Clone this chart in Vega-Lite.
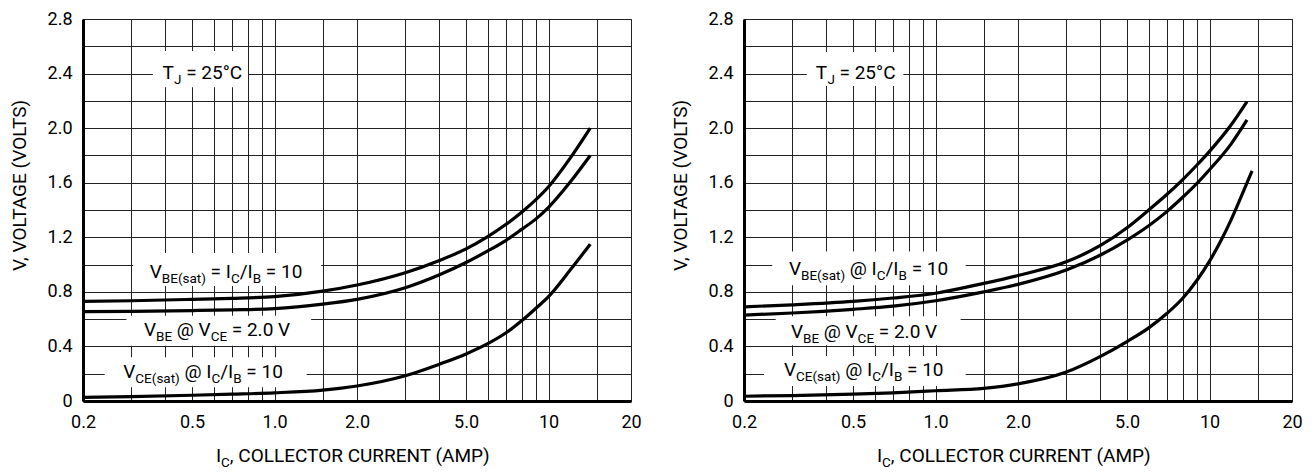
{
  "$schema": "https://vega.github.io/schema/vega-lite/v6.json",
  "background": "white",
  "padding": {"left": 9, "top": 9, "right": 5, "bottom": 0},
  "spacing": 113,
  "bounds": "flush",
  "datasets": {
    "curves": [
      {"panel": "L", "series": "VBEsat", "x": 0.2, "v": 0.73},
      {"panel": "L", "series": "VBEsat", "x": 0.3, "v": 0.735},
      {"panel": "L", "series": "VBEsat", "x": 0.5, "v": 0.745},
      {"panel": "L", "series": "VBEsat", "x": 0.7, "v": 0.752},
      {"panel": "L", "series": "VBEsat", "x": 1.0, "v": 0.765},
      {"panel": "L", "series": "VBEsat", "x": 1.5, "v": 0.805},
      {"panel": "L", "series": "VBEsat", "x": 2.0, "v": 0.85},
      {"panel": "L", "series": "VBEsat", "x": 3.0, "v": 0.94},
      {"panel": "L", "series": "VBEsat", "x": 4.0, "v": 1.03},
      {"panel": "L", "series": "VBEsat", "x": 5.0, "v": 1.115},
      {"panel": "L", "series": "VBEsat", "x": 6.0, "v": 1.205},
      {"panel": "L", "series": "VBEsat", "x": 7.0, "v": 1.295},
      {"panel": "L", "series": "VBEsat", "x": 8.0, "v": 1.385},
      {"panel": "L", "series": "VBEsat", "x": 10, "v": 1.57},
      {"panel": "L", "series": "VBEsat", "x": 12, "v": 1.78},
      {"panel": "L", "series": "VBEsat", "x": 14.2, "v": 2.0},
      {"panel": "L", "series": "VBE", "x": 0.2, "v": 0.655},
      {"panel": "L", "series": "VBE", "x": 0.3, "v": 0.657},
      {"panel": "L", "series": "VBE", "x": 0.5, "v": 0.663},
      {"panel": "L", "series": "VBE", "x": 0.7, "v": 0.668},
      {"panel": "L", "series": "VBE", "x": 1.0, "v": 0.677},
      {"panel": "L", "series": "VBE", "x": 1.5, "v": 0.71},
      {"panel": "L", "series": "VBE", "x": 2.0, "v": 0.745},
      {"panel": "L", "series": "VBE", "x": 3.0, "v": 0.83},
      {"panel": "L", "series": "VBE", "x": 4.0, "v": 0.925},
      {"panel": "L", "series": "VBE", "x": 5.0, "v": 1.015},
      {"panel": "L", "series": "VBE", "x": 6.0, "v": 1.1},
      {"panel": "L", "series": "VBE", "x": 7.0, "v": 1.178},
      {"panel": "L", "series": "VBE", "x": 8.0, "v": 1.26},
      {"panel": "L", "series": "VBE", "x": 9.0, "v": 1.335},
      {"panel": "L", "series": "VBE", "x": 10, "v": 1.42},
      {"panel": "L", "series": "VBE", "x": 12, "v": 1.605},
      {"panel": "L", "series": "VBE", "x": 14.2, "v": 1.8},
      {"panel": "L", "series": "VCEsat", "x": 0.2, "v": 0.027},
      {"panel": "L", "series": "VCEsat", "x": 0.3, "v": 0.032},
      {"panel": "L", "series": "VCEsat", "x": 0.5, "v": 0.042},
      {"panel": "L", "series": "VCEsat", "x": 0.7, "v": 0.05},
      {"panel": "L", "series": "VCEsat", "x": 1.0, "v": 0.06},
      {"panel": "L", "series": "VCEsat", "x": 1.5, "v": 0.08},
      {"panel": "L", "series": "VCEsat", "x": 2.0, "v": 0.11},
      {"panel": "L", "series": "VCEsat", "x": 3.0, "v": 0.185},
      {"panel": "L", "series": "VCEsat", "x": 4.0, "v": 0.27},
      {"panel": "L", "series": "VCEsat", "x": 5.0, "v": 0.345},
      {"panel": "L", "series": "VCEsat", "x": 6.0, "v": 0.42},
      {"panel": "L", "series": "VCEsat", "x": 7.0, "v": 0.5},
      {"panel": "L", "series": "VCEsat", "x": 8.0, "v": 0.59},
      {"panel": "L", "series": "VCEsat", "x": 9.0, "v": 0.68},
      {"panel": "L", "series": "VCEsat", "x": 10, "v": 0.765},
      {"panel": "L", "series": "VCEsat", "x": 12, "v": 0.96},
      {"panel": "L", "series": "VCEsat", "x": 14.2, "v": 1.15},
      {"panel": "R", "series": "VBEsat", "x": 0.2, "v": 0.69},
      {"panel": "R", "series": "VBEsat", "x": 0.3, "v": 0.705},
      {"panel": "R", "series": "VBEsat", "x": 0.5, "v": 0.73},
      {"panel": "R", "series": "VBEsat", "x": 0.7, "v": 0.755},
      {"panel": "R", "series": "VBEsat", "x": 1.0, "v": 0.79},
      {"panel": "R", "series": "VBEsat", "x": 1.5, "v": 0.862},
      {"panel": "R", "series": "VBEsat", "x": 2.0, "v": 0.92},
      {"panel": "R", "series": "VBEsat", "x": 3.0, "v": 1.02},
      {"panel": "R", "series": "VBEsat", "x": 4.0, "v": 1.14},
      {"panel": "R", "series": "VBEsat", "x": 5.0, "v": 1.27},
      {"panel": "R", "series": "VBEsat", "x": 6.0, "v": 1.4},
      {"panel": "R", "series": "VBEsat", "x": 7.0, "v": 1.515},
      {"panel": "R", "series": "VBEsat", "x": 8.0, "v": 1.625},
      {"panel": "R", "series": "VBEsat", "x": 9.0, "v": 1.73},
      {"panel": "R", "series": "VBEsat", "x": 10, "v": 1.83},
      {"panel": "R", "series": "VBEsat", "x": 12, "v": 2.025},
      {"panel": "R", "series": "VBEsat", "x": 13.7, "v": 2.195},
      {"panel": "R", "series": "VBE", "x": 0.2, "v": 0.63},
      {"panel": "R", "series": "VBE", "x": 0.3, "v": 0.645},
      {"panel": "R", "series": "VBE", "x": 0.5, "v": 0.672},
      {"panel": "R", "series": "VBE", "x": 0.7, "v": 0.695},
      {"panel": "R", "series": "VBE", "x": 1.0, "v": 0.735},
      {"panel": "R", "series": "VBE", "x": 1.5, "v": 0.8},
      {"panel": "R", "series": "VBE", "x": 2.0, "v": 0.855},
      {"panel": "R", "series": "VBE", "x": 3.0, "v": 0.96},
      {"panel": "R", "series": "VBE", "x": 4.0, "v": 1.07},
      {"panel": "R", "series": "VBE", "x": 5.0, "v": 1.18},
      {"panel": "R", "series": "VBE", "x": 6.0, "v": 1.285},
      {"panel": "R", "series": "VBE", "x": 7.0, "v": 1.39},
      {"panel": "R", "series": "VBE", "x": 8.0, "v": 1.495},
      {"panel": "R", "series": "VBE", "x": 9.0, "v": 1.595},
      {"panel": "R", "series": "VBE", "x": 10, "v": 1.695},
      {"panel": "R", "series": "VBE", "x": 12, "v": 1.885},
      {"panel": "R", "series": "VBE", "x": 13.7, "v": 2.06},
      {"panel": "R", "series": "VCEsat", "x": 0.2, "v": 0.035},
      {"panel": "R", "series": "VCEsat", "x": 0.3, "v": 0.04},
      {"panel": "R", "series": "VCEsat", "x": 0.5, "v": 0.05},
      {"panel": "R", "series": "VCEsat", "x": 0.7, "v": 0.06},
      {"panel": "R", "series": "VCEsat", "x": 1.0, "v": 0.075},
      {"panel": "R", "series": "VCEsat", "x": 1.5, "v": 0.092},
      {"panel": "R", "series": "VCEsat", "x": 2.0, "v": 0.125},
      {"panel": "R", "series": "VCEsat", "x": 3.0, "v": 0.212},
      {"panel": "R", "series": "VCEsat", "x": 4.0, "v": 0.327},
      {"panel": "R", "series": "VCEsat", "x": 5.0, "v": 0.436},
      {"panel": "R", "series": "VCEsat", "x": 6.0, "v": 0.536},
      {"panel": "R", "series": "VCEsat", "x": 7.0, "v": 0.643},
      {"panel": "R", "series": "VCEsat", "x": 8.0, "v": 0.755},
      {"panel": "R", "series": "VCEsat", "x": 9.0, "v": 0.885},
      {"panel": "R", "series": "VCEsat", "x": 10, "v": 1.025},
      {"panel": "R", "series": "VCEsat", "x": 11, "v": 1.175},
      {"panel": "R", "series": "VCEsat", "x": 12, "v": 1.33},
      {"panel": "R", "series": "VCEsat", "x": 13, "v": 1.49},
      {"panel": "R", "series": "VCEsat", "x": 14.3, "v": 1.686}
    ],
    "boxes": [
      {"panel": "L", "x": 0.36, "xe": 0.8, "v": 2.3, "ve": 2.565},
      {"panel": "L", "x": 0.305, "xe": 1.48, "v": 0.843, "ve": 1.085},
      {"panel": "L", "x": 0.288, "xe": 1.36, "v": 0.405, "ve": 0.625},
      {"panel": "L", "x": 0.24, "xe": 1.31, "v": 0.1, "ve": 0.32},
      {"panel": "R", "x": 0.339, "xe": 0.763, "v": 2.309, "ve": 2.558},
      {"panel": "R", "x": 0.2536, "xe": 1.2885, "v": 0.848, "ve": 1.096},
      {"panel": "R", "x": 0.261, "xe": 1.235, "v": 0.409, "ve": 0.621},
      {"panel": "R", "x": 0.2366, "xe": 1.2885, "v": 0.11, "ve": 0.329}
    ],
    "main": [
      {"panel": "L", "x": 0.3901, "v": 2.36, "t": "T"},
      {"panel": "L", "x": 0.4762, "v": 2.36, "t": "= 25°C"},
      {"panel": "L", "x": 0.3504, "v": 0.899, "t": "V"},
      {"panel": "L", "x": 0.5844, "v": 0.899, "t": "= I"},
      {"panel": "L", "x": 0.7464, "v": 0.899, "t": "/I"},
      {"panel": "L", "x": 0.9295, "v": 0.899, "t": "= 10"},
      {"panel": "L", "x": 0.3337, "v": 0.474, "t": "V"},
      {"panel": "L", "x": 0.4398, "v": 0.474, "t": "@ V"},
      {"panel": "L", "x": 0.6984, "v": 0.474, "t": "= 2.0 V"},
      {"panel": "L", "x": 0.2805, "v": 0.166, "t": "V"},
      {"panel": "L", "x": 0.4693, "v": 0.166, "t": "@ I"},
      {"panel": "L", "x": 0.6337, "v": 0.166, "t": "/I"},
      {"panel": "L", "x": 0.7892, "v": 0.166, "t": "= 10"},
      {"panel": "L", "x": 0.611, "v": -0.447, "t": "I"},
      {"panel": "L", "x": 0.6871, "v": -0.447, "t": ", COLLECTOR CURRENT (AMP)"},
      {"panel": "R", "x": 0.3657, "v": 2.36, "t": "T"},
      {"panel": "R", "x": 0.4464, "v": 2.36, "t": "= 25°C"},
      {"panel": "R", "x": 0.2918, "v": 0.923, "t": "V"},
      {"panel": "R", "x": 0.4864, "v": 0.923, "t": "@ I"},
      {"panel": "R", "x": 0.657, "v": 0.923, "t": "/I"},
      {"panel": "R", "x": 0.8181, "v": 0.923, "t": "= 10"},
      {"panel": "R", "x": 0.2967, "v": 0.46, "t": "V"},
      {"panel": "R", "x": 0.3911, "v": 0.46, "t": "@ V"},
      {"panel": "R", "x": 0.6209, "v": 0.46, "t": "= 2.0 V"},
      {"panel": "R", "x": 0.2798, "v": 0.18, "t": "V"},
      {"panel": "R", "x": 0.4682, "v": 0.18, "t": "@ I"},
      {"panel": "R", "x": 0.6321, "v": 0.18, "t": "/I"},
      {"panel": "R", "x": 0.7872, "v": 0.18, "t": "= 10"},
      {"panel": "R", "x": 0.611, "v": -0.447, "t": "I"},
      {"panel": "R", "x": 0.6871, "v": -0.447, "t": ", COLLECTOR CURRENT (AMP)"}
    ],
    "subs": [
      {"panel": "L", "x": 0.43, "v": 2.36, "t": "J"},
      {"panel": "L", "x": 0.3878, "v": 0.899, "t": "BE(sat)"},
      {"panel": "L", "x": 0.693, "v": 0.899, "t": "C"},
      {"panel": "L", "x": 0.8325, "v": 0.899, "t": "B"},
      {"panel": "L", "x": 0.3694, "v": 0.474, "t": "BE"},
      {"panel": "L", "x": 0.5846, "v": 0.474, "t": "CE"},
      {"panel": "L", "x": 0.3104, "v": 0.166, "t": "CE(sat)"},
      {"panel": "L", "x": 0.5885, "v": 0.166, "t": "C"},
      {"panel": "L", "x": 0.7068, "v": 0.166, "t": "B"},
      {"panel": "L", "x": 0.6382, "v": -0.447, "t": "C"},
      {"panel": "R", "x": 0.4031, "v": 2.36, "t": "J"},
      {"panel": "R", "x": 0.3228, "v": 0.923, "t": "BE(sat)"},
      {"panel": "R", "x": 0.6101, "v": 0.923, "t": "C"},
      {"panel": "R", "x": 0.7329, "v": 0.923, "t": "B"},
      {"panel": "R", "x": 0.3283, "v": 0.46, "t": "BE"},
      {"panel": "R", "x": 0.5196, "v": 0.46, "t": "CE"},
      {"panel": "R", "x": 0.3096, "v": 0.18, "t": "CE(sat)"},
      {"panel": "R", "x": 0.5871, "v": 0.18, "t": "C"},
      {"panel": "R", "x": 0.705, "v": 0.18, "t": "B"},
      {"panel": "R", "x": 0.6382, "v": -0.447, "t": "C"}
    ]
  },
  "hconcat": [
    {
      "width": 548,
      "height": 382,
      "encoding": {
        "x": {"field": "x", "type": "quantitative",
          "scale": {"type": "log", "domain": [0.2, 20], "nice": false},
          "axis": {"title": null, "values": [0.2,0.3,0.4,0.5,0.6,0.7,0.8,0.9,1,1.5,2,3,4,5,6,7,8,9,10,15,20],
            "labelExpr": "indexof([0.2,0.5,1,2,5,10,20], datum.value) >= 0 ? (datum.value >= 10 ? format(datum.value, 'd') : format(datum.value, '.1f')) : ''",
            "labelPadding": 12, "labelBaseline": "top"}},
        "y": {"field": "v", "type": "quantitative",
          "scale": {"domain": [0, 2.8], "nice": false, "zero": false},
          "axis": {"title": "V, VOLTAGE (VOLTS)", "values": [0,0.2,0.4,0.6,0.8,1,1.2,1.4,1.6,1.8,2,2.2,2.4,2.6,2.8],
            "labelExpr": "round(datum.value*10) % 4 == 0 ? (datum.value == 0 ? '0' : format(datum.value, '.1f')) : ''",
            "labelPadding": 11, "titleX": -58, "titleY": 166, "titleAngle": 270, "titleAlign": "center", "titleBaseline": "alphabetic"}}
      },
      "layer": [
        {"data": {"name": "boxes"}, "transform": [{"filter": "datum.panel == 'L'"}],
         "mark": {"type": "rect", "fill": "white", "strokeWidth": 0},
         "encoding": {"x2": {"field": "xe"}, "y2": {"field": "ve"}}},
        {"data": {"name": "curves"}, "transform": [{"filter": "datum.panel == 'L'"}],
         "mark": {"type": "line", "color": "black", "strokeWidth": 3.2, "interpolate": "monotone"},
         "encoding": {"detail": {"field": "series"}}},
        {"data": {"name": "main"}, "transform": [{"filter": "datum.panel == 'L'"}],
         "mark": {"type": "text", "align": "left", "baseline": "alphabetic", "fontSize": 19, "font": "Roboto", "color": "black"},
         "encoding": {"text": {"field": "t"}}},
        {"data": {"name": "subs"}, "transform": [{"filter": "datum.panel == 'L'"}],
         "mark": {"type": "text", "align": "left", "baseline": "alphabetic", "fontSize": 13.5, "dy": 5, "font": "Roboto", "color": "black"},
         "encoding": {"text": {"field": "t"}}}
      ]
    },
    {
      "width": 548,
      "height": 382,
      "encoding": {
        "x": {"field": "x", "type": "quantitative",
          "scale": {"type": "log", "domain": [0.2, 20], "nice": false},
          "axis": {"title": null, "values": [0.2,0.3,0.4,0.5,0.6,0.7,0.8,0.9,1,1.5,2,3,4,5,6,7,8,9,10,15,20],
            "labelExpr": "indexof([0.2,0.5,1,2,5,10,20], datum.value) >= 0 ? (datum.value >= 10 ? format(datum.value, 'd') : format(datum.value, '.1f')) : ''",
            "labelPadding": 12, "labelBaseline": "top"}},
        "y": {"field": "v", "type": "quantitative",
          "scale": {"domain": [0, 2.8], "nice": false, "zero": false},
          "axis": {"title": "V, VOLTAGE (VOLTS)", "values": [0,0.2,0.4,0.6,0.8,1,1.2,1.4,1.6,1.8,2,2.2,2.4,2.6,2.8],
            "labelExpr": "round(datum.value*10) % 4 == 0 ? (datum.value == 0 ? '0' : format(datum.value, '.1f')) : ''",
            "labelPadding": 11, "titleX": -58, "titleY": 166, "titleAngle": 270, "titleAlign": "center", "titleBaseline": "alphabetic"}}
      },
      "layer": [
        {"data": {"name": "boxes"}, "transform": [{"filter": "datum.panel == 'R'"}],
         "mark": {"type": "rect", "fill": "white", "strokeWidth": 0},
         "encoding": {"x2": {"field": "xe"}, "y2": {"field": "ve"}}},
        {"data": {"name": "curves"}, "transform": [{"filter": "datum.panel == 'R'"}],
         "mark": {"type": "line", "color": "black", "strokeWidth": 3.2, "interpolate": "monotone"},
         "encoding": {"detail": {"field": "series"}}},
        {"data": {"name": "main"}, "transform": [{"filter": "datum.panel == 'R'"}],
         "mark": {"type": "text", "align": "left", "baseline": "alphabetic", "fontSize": 19, "font": "Roboto", "color": "black"},
         "encoding": {"text": {"field": "t"}}},
        {"data": {"name": "subs"}, "transform": [{"filter": "datum.panel == 'R'"}],
         "mark": {"type": "text", "align": "left", "baseline": "alphabetic", "fontSize": 13.5, "dy": 5, "font": "Roboto", "color": "black"},
         "encoding": {"text": {"field": "t"}}}
      ]
    }
  ],
  "config": {
    "view": {"stroke": "#444", "strokeWidth": 1},
    "axis": {
      "labelFont": "Roboto", "labelFontSize": 18, "labelColor": "black",
      "titleFont": "Roboto", "titleFontSize": 19, "titleFontWeight": "normal", "titleColor": "black",
      "grid": true, "gridColor": "#222", "gridWidth": 1, "gridOpacity": 1,
      "ticks": false, "domainColor": "black", "domainWidth": 3,
      "labelOverlap": false, "labelFlush": false, "labelBound": false
    }
  }
}
